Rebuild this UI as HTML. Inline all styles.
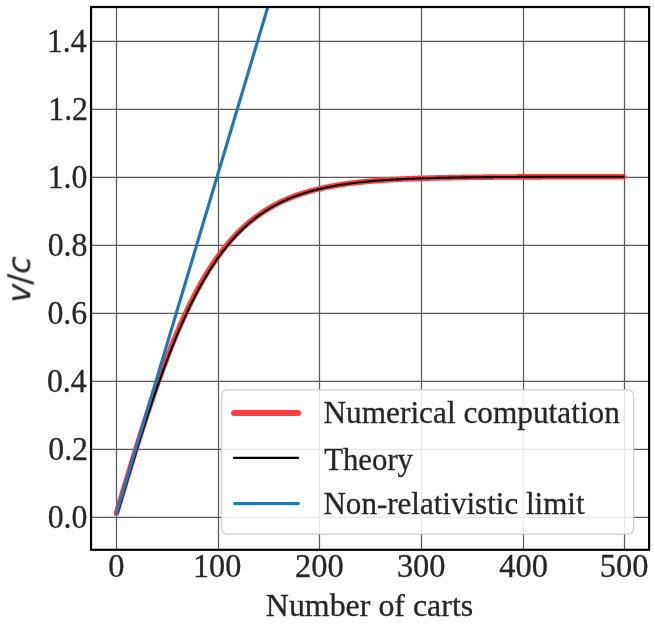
<!DOCTYPE html>
<html lang="en"><head><meta charset="utf-8"><title>v/c vs Number of carts</title>
<style>html,body{margin:0;padding:0;background:#fff}body{width:655px;height:630px;overflow:hidden}svg{display:block}</style>
</head><body>
<svg width="655" height="630" viewBox="0 0 655 630">
<rect width="655" height="630" fill="#fff"/>
<defs><clipPath id="ax"><rect x="91.05" y="7.0" width="558.0500000000001" height="542.8"/></clipPath></defs>
<path d="M116.50 7.0V549.8M218.50 7.0V549.8M319.50 7.0V549.8M421.50 7.0V549.8M523.50 7.0V549.8M624.50 7.0V549.8M91.05 517.35H649.1M91.05 449.35H649.1M91.05 381.35H649.1M91.05 313.35H649.1M91.05 245.35H649.1M91.05 177.35H649.1M91.05 109.35H649.1M91.05 41.35H649.1" stroke="#5a5a5a" stroke-width="1.25" fill="none"/>
<g clip-path="url(#ax)" fill="none">
<path transform="translate(0 -0.7)" d="M116.50 513.90L117.52 510.50L118.53 507.11L119.55 503.71L120.56 500.32L121.58 496.93L122.60 493.54L123.61 490.16L124.63 486.79L125.65 483.42L126.66 480.06L127.68 476.70L128.69 473.36L129.71 470.02L130.73 466.69L131.74 463.37L132.76 460.06L133.78 456.77L134.79 453.48L135.81 450.21L136.82 446.95L137.84 443.70L138.86 440.47L139.87 437.25L140.89 434.05L141.91 430.86L142.92 427.69L143.94 424.53L144.95 421.39L145.97 418.27L146.99 415.17L148.00 412.09L149.02 409.03L150.03 405.98L151.05 402.96L152.07 399.95L153.08 396.97L154.10 394.01L155.12 391.06L156.13 388.14L157.15 385.25L158.16 382.37L159.18 379.52L160.20 376.69L161.21 373.88L162.23 371.10L163.25 368.34L164.26 365.61L165.28 362.90L166.29 360.21L167.31 357.55L168.33 354.92L169.34 352.31L170.36 349.72L171.37 347.16L172.39 344.62L173.41 342.11L174.42 339.63L175.44 337.17L176.46 334.74L177.47 332.34L178.49 329.96L179.50 327.60L180.52 325.27L181.54 322.97L182.55 320.70L183.57 318.45L184.59 316.23L185.60 314.03L186.62 311.86L187.63 309.71L188.65 307.59L189.67 305.50L190.68 303.44L191.70 301.39L192.72 299.38L193.73 297.39L194.75 295.43L195.76 293.49L196.78 291.57L197.80 289.69L198.81 287.82L199.83 285.99L200.84 284.17L201.86 282.39L202.88 280.62L203.89 278.88L204.91 277.17L205.93 275.48L206.94 273.81L207.96 272.17L208.97 270.55L209.99 268.95L211.01 267.38L212.02 265.83L213.04 264.30L214.06 262.79L215.07 261.31L216.09 259.85L217.10 258.41L218.12 257.00L219.14 255.60L220.15 254.23L221.17 252.87L222.18 251.54L223.20 250.23L224.22 248.94L225.23 247.67L226.25 246.42L227.27 245.19L228.28 243.98L229.30 242.78L230.31 241.61L231.33 240.46L232.35 239.32L233.36 238.21L234.38 237.11L235.40 236.03L236.41 234.96L237.43 233.92L238.44 232.89L239.46 231.88L240.48 230.88L241.49 229.91L242.51 228.94L243.53 228.00L244.54 227.07L245.56 226.16L246.57 225.26L247.59 224.38L248.61 223.51L249.62 222.66L250.64 221.82L251.65 220.99L252.67 220.18L253.69 219.39L254.70 218.61L255.72 217.84L256.74 217.08L257.75 216.34L258.77 215.62L259.78 214.90L260.80 214.20L261.82 213.51L262.83 212.83L263.85 212.16L264.87 211.51L265.88 210.87L266.90 210.23L267.91 209.61L268.93 209.01L269.95 208.41L270.96 207.82L271.98 207.24L272.99 206.68L274.01 206.12L275.03 205.58L276.04 205.04L277.06 204.51L278.08 204.00L279.09 203.49L280.11 202.99L281.12 202.51L282.14 202.03L283.16 201.55L284.17 201.09L285.19 200.64L286.21 200.19L287.22 199.76L288.24 199.33L289.25 198.91L290.27 198.49L291.29 198.09L292.30 197.69L293.32 197.30L294.34 196.92L295.35 196.54L296.37 196.17L297.38 195.81L298.40 195.45L299.42 195.10L300.43 194.76L301.45 194.43L302.46 194.10L303.48 193.77L304.50 193.46L305.51 193.15L306.53 192.84L307.55 192.54L308.56 192.25L309.58 191.96L310.59 191.68L311.61 191.40L312.63 191.13L313.64 190.86L314.66 190.60L315.68 190.34L316.69 190.09L317.71 189.84L318.72 189.60L319.74 189.36L320.76 189.13L321.77 188.90L322.79 188.67L323.80 188.45L324.82 188.24L325.84 188.03L326.85 187.82L327.87 187.62L328.89 187.42L329.90 187.22L330.92 187.03L331.93 186.84L332.95 186.65L333.97 186.47L334.98 186.29L336.00 186.12L337.02 185.95L338.03 185.78L339.05 185.62L340.06 185.46L341.08 185.30L342.10 185.14L343.11 184.99L344.13 184.84L345.14 184.69L346.16 184.55L347.18 184.41L348.19 184.27L349.21 184.14L350.23 184.00L351.24 183.87L352.26 183.75L353.27 183.62L354.29 183.50L355.31 183.38L356.32 183.26L357.34 183.15L358.36 183.03L359.37 182.92L360.39 182.81L361.40 182.70L362.42 182.60L363.44 182.50L364.45 182.40L365.47 182.30L366.49 182.20L367.50 182.11L368.52 182.01L369.53 181.92L370.55 181.83L371.57 181.74L372.58 181.66L373.60 181.57L374.61 181.49L375.63 181.41L376.65 181.33L377.66 181.25L378.68 181.18L379.70 181.10L380.71 181.03L381.73 180.96L382.74 180.89L383.76 180.82L384.78 180.75L385.79 180.68L386.81 180.62L387.83 180.55L388.84 180.49L389.86 180.43L390.87 180.37L391.89 180.31L392.91 180.25L393.92 180.19L394.94 180.14L395.95 180.08L396.97 180.03L397.99 179.98L399.00 179.93L400.02 179.88L401.04 179.83L402.05 179.78L403.07 179.73L404.08 179.68L405.10 179.64L406.12 179.59L407.13 179.55L408.15 179.51L409.17 179.46L410.18 179.42L411.20 179.38L412.21 179.34L413.23 179.30L414.25 179.27L415.26 179.23L416.28 179.19L417.30 179.16L418.31 179.12L419.33 179.09L420.34 179.05L421.36 179.02L422.38 178.99L423.39 178.95L424.41 178.92L425.42 178.89L426.44 178.86L427.46 178.83L428.47 178.80L429.49 178.78L430.51 178.75L431.52 178.72L432.54 178.69L433.55 178.67L434.57 178.64L435.59 178.62L436.60 178.59L437.62 178.57L438.64 178.55L439.65 178.52L440.67 178.50L441.68 178.48L442.70 178.46L443.72 178.43L444.73 178.41L445.75 178.39L446.76 178.37L447.78 178.35L448.80 178.33L449.81 178.31L450.83 178.30L451.85 178.28L452.86 178.26L453.88 178.24L454.89 178.22L455.91 178.21L456.93 178.19L457.94 178.17L458.96 178.16L459.98 178.14L460.99 178.13L462.01 178.11L463.02 178.10L464.04 178.08L465.06 178.07L466.07 178.06L467.09 178.04L468.11 178.03L469.12 178.02L470.14 178.00L471.15 177.99L472.17 177.98L473.19 177.97L474.20 177.95L475.22 177.94L476.23 177.93L477.25 177.92L478.27 177.91L479.28 177.90L480.30 177.89L481.32 177.88L482.33 177.87L483.35 177.86L484.36 177.85L485.38 177.84L486.40 177.83L487.41 177.82L488.43 177.81L489.45 177.80L490.46 177.80L491.48 177.79L492.49 177.78L493.51 177.77L494.53 177.76L495.54 177.75L496.56 177.75L497.57 177.74L498.59 177.73L499.61 177.73L500.62 177.72L501.64 177.71L502.66 177.70L503.67 177.70L504.69 177.69L505.70 177.69L506.72 177.68L507.74 177.67L508.75 177.67L509.77 177.66L510.79 177.66L511.80 177.65L512.82 177.64L513.83 177.64L514.85 177.63L515.87 177.63L516.88 177.62L517.90 177.62L518.92 177.61L519.93 177.61L520.95 177.60L521.96 177.60L522.98 177.59L524.00 177.59L525.01 177.59L526.03 177.58L527.04 177.58L528.06 177.57L529.08 177.57L530.09 177.57L531.11 177.56L532.13 177.56L533.14 177.55L534.16 177.55L535.17 177.55L536.19 177.54L537.21 177.54L538.22 177.54L539.24 177.53L540.26 177.53L541.27 177.53L542.29 177.52L543.30 177.52L544.32 177.52L545.34 177.52L546.35 177.51L547.37 177.51L548.38 177.51L549.40 177.50L550.42 177.50L551.43 177.50L552.45 177.50L553.47 177.49L554.48 177.49L555.50 177.49L556.51 177.49L557.53 177.48L558.55 177.48L559.56 177.48L560.58 177.48L561.60 177.48L562.61 177.47L563.63 177.47L564.64 177.47L565.66 177.47L566.68 177.47L567.69 177.46L568.71 177.46L569.73 177.46L570.74 177.46L571.76 177.46L572.77 177.46L573.79 177.45L574.81 177.45L575.82 177.45L576.84 177.45L577.85 177.45L578.87 177.45L579.89 177.44L580.90 177.44L581.92 177.44L582.94 177.44L583.95 177.44L584.97 177.44L585.98 177.44L587.00 177.43L588.02 177.43L589.03 177.43L590.05 177.43L591.07 177.43L592.08 177.43L593.10 177.43L594.11 177.43L595.13 177.43L596.15 177.42L597.16 177.42L598.18 177.42L599.19 177.42L600.21 177.42L601.23 177.42L602.24 177.42L603.26 177.42L604.28 177.42L605.29 177.42L606.31 177.41L607.32 177.41L608.34 177.41L609.36 177.41L610.37 177.41L611.39 177.41L612.41 177.41L613.42 177.41L614.44 177.41L615.45 177.41L616.47 177.41L617.49 177.41L618.50 177.41L619.52 177.40L620.54 177.40L621.55 177.40L622.57 177.40L623.58 177.40" stroke="#fe4040" stroke-width="5.6" stroke-linecap="round" stroke-linejoin="round"/>
<path transform="translate(1.0 -0.7)" d="M116.50 513.90L117.52 510.50L118.53 507.11L119.55 503.71L120.56 500.32L121.58 496.93L122.60 493.54L123.61 490.16L124.63 486.79L125.65 483.42L126.66 480.06L127.68 476.70L128.69 473.36L129.71 470.02L130.73 466.69L131.74 463.37L132.76 460.06L133.78 456.77L134.79 453.48L135.81 450.21L136.82 446.95L137.84 443.70L138.86 440.47L139.87 437.25L140.89 434.05L141.91 430.86L142.92 427.69L143.94 424.53L144.95 421.39L145.97 418.27L146.99 415.17L148.00 412.09L149.02 409.03L150.03 405.98L151.05 402.96L152.07 399.95L153.08 396.97L154.10 394.01L155.12 391.06L156.13 388.14L157.15 385.25L158.16 382.37L159.18 379.52L160.20 376.69L161.21 373.88L162.23 371.10L163.25 368.34L164.26 365.61L165.28 362.90L166.29 360.21L167.31 357.55L168.33 354.92L169.34 352.31L170.36 349.72L171.37 347.16L172.39 344.62L173.41 342.11L174.42 339.63L175.44 337.17L176.46 334.74L177.47 332.34L178.49 329.96L179.50 327.60L180.52 325.27L181.54 322.97L182.55 320.70L183.57 318.45L184.59 316.23L185.60 314.03L186.62 311.86L187.63 309.71L188.65 307.59L189.67 305.50L190.68 303.44L191.70 301.39L192.72 299.38L193.73 297.39L194.75 295.43L195.76 293.49L196.78 291.57L197.80 289.69L198.81 287.82L199.83 285.99L200.84 284.17L201.86 282.39L202.88 280.62L203.89 278.88L204.91 277.17L205.93 275.48L206.94 273.81L207.96 272.17L208.97 270.55L209.99 268.95L211.01 267.38L212.02 265.83L213.04 264.30L214.06 262.79L215.07 261.31L216.09 259.85L217.10 258.41L218.12 257.00L219.14 255.60L220.15 254.23L221.17 252.87L222.18 251.54L223.20 250.23L224.22 248.94L225.23 247.67L226.25 246.42L227.27 245.19L228.28 243.98L229.30 242.78L230.31 241.61L231.33 240.46L232.35 239.32L233.36 238.21L234.38 237.11L235.40 236.03L236.41 234.96L237.43 233.92L238.44 232.89L239.46 231.88L240.48 230.88L241.49 229.91L242.51 228.94L243.53 228.00L244.54 227.07L245.56 226.16L246.57 225.26L247.59 224.38L248.61 223.51L249.62 222.66L250.64 221.82L251.65 220.99L252.67 220.18L253.69 219.39L254.70 218.61L255.72 217.84L256.74 217.08L257.75 216.34L258.77 215.62L259.78 214.90L260.80 214.20L261.82 213.51L262.83 212.83L263.85 212.16L264.87 211.51L265.88 210.87L266.90 210.23L267.91 209.61L268.93 209.01L269.95 208.41L270.96 207.82L271.98 207.24L272.99 206.68L274.01 206.12L275.03 205.58L276.04 205.04L277.06 204.51L278.08 204.00L279.09 203.49L280.11 202.99L281.12 202.51L282.14 202.03L283.16 201.55L284.17 201.09L285.19 200.64L286.21 200.19L287.22 199.76L288.24 199.33L289.25 198.91L290.27 198.49L291.29 198.09L292.30 197.69L293.32 197.30L294.34 196.92L295.35 196.54L296.37 196.17L297.38 195.81L298.40 195.45L299.42 195.10L300.43 194.76L301.45 194.43L302.46 194.10L303.48 193.77L304.50 193.46L305.51 193.15L306.53 192.84L307.55 192.54L308.56 192.25L309.58 191.96L310.59 191.68L311.61 191.40L312.63 191.13L313.64 190.86L314.66 190.60L315.68 190.34L316.69 190.09L317.71 189.84L318.72 189.60L319.74 189.36L320.76 189.13L321.77 188.90L322.79 188.67L323.80 188.45L324.82 188.24L325.84 188.03L326.85 187.82L327.87 187.62L328.89 187.42L329.90 187.22L330.92 187.03L331.93 186.84L332.95 186.65L333.97 186.47L334.98 186.29L336.00 186.12L337.02 185.95L338.03 185.78L339.05 185.62L340.06 185.46L341.08 185.30L342.10 185.14L343.11 184.99L344.13 184.84L345.14 184.69L346.16 184.55L347.18 184.41L348.19 184.27L349.21 184.14L350.23 184.00L351.24 183.87L352.26 183.75L353.27 183.62L354.29 183.50L355.31 183.38L356.32 183.26L357.34 183.15L358.36 183.03L359.37 182.92L360.39 182.81L361.40 182.70L362.42 182.60L363.44 182.50L364.45 182.40L365.47 182.30L366.49 182.20L367.50 182.11L368.52 182.01L369.53 181.92L370.55 181.83L371.57 181.74L372.58 181.66L373.60 181.57L374.61 181.49L375.63 181.41L376.65 181.33L377.66 181.25L378.68 181.18L379.70 181.10L380.71 181.03L381.73 180.96L382.74 180.89L383.76 180.82L384.78 180.75L385.79 180.68L386.81 180.62L387.83 180.55L388.84 180.49L389.86 180.43L390.87 180.37L391.89 180.31L392.91 180.25L393.92 180.19L394.94 180.14L395.95 180.08L396.97 180.03L397.99 179.98L399.00 179.93L400.02 179.88L401.04 179.83L402.05 179.78L403.07 179.73L404.08 179.68L405.10 179.64L406.12 179.59L407.13 179.55L408.15 179.51L409.17 179.46L410.18 179.42L411.20 179.38L412.21 179.34L413.23 179.30L414.25 179.27L415.26 179.23L416.28 179.19L417.30 179.16L418.31 179.12L419.33 179.09L420.34 179.05L421.36 179.02L422.38 178.99L423.39 178.95L424.41 178.92L425.42 178.89L426.44 178.86L427.46 178.83L428.47 178.80L429.49 178.78L430.51 178.75L431.52 178.72L432.54 178.69L433.55 178.67L434.57 178.64L435.59 178.62L436.60 178.59L437.62 178.57L438.64 178.55L439.65 178.52L440.67 178.50L441.68 178.48L442.70 178.46L443.72 178.43L444.73 178.41L445.75 178.39L446.76 178.37L447.78 178.35L448.80 178.33L449.81 178.31L450.83 178.30L451.85 178.28L452.86 178.26L453.88 178.24L454.89 178.22L455.91 178.21L456.93 178.19L457.94 178.17L458.96 178.16L459.98 178.14L460.99 178.13L462.01 178.11L463.02 178.10L464.04 178.08L465.06 178.07L466.07 178.06L467.09 178.04L468.11 178.03L469.12 178.02L470.14 178.00L471.15 177.99L472.17 177.98L473.19 177.97L474.20 177.95L475.22 177.94L476.23 177.93L477.25 177.92L478.27 177.91L479.28 177.90L480.30 177.89L481.32 177.88L482.33 177.87L483.35 177.86L484.36 177.85L485.38 177.84L486.40 177.83L487.41 177.82L488.43 177.81L489.45 177.80L490.46 177.80L491.48 177.79L492.49 177.78L493.51 177.77L494.53 177.76L495.54 177.75L496.56 177.75L497.57 177.74L498.59 177.73L499.61 177.73L500.62 177.72L501.64 177.71L502.66 177.70L503.67 177.70L504.69 177.69L505.70 177.69L506.72 177.68L507.74 177.67L508.75 177.67L509.77 177.66L510.79 177.66L511.80 177.65L512.82 177.64L513.83 177.64L514.85 177.63L515.87 177.63L516.88 177.62L517.90 177.62L518.92 177.61L519.93 177.61L520.95 177.60L521.96 177.60L522.98 177.59L524.00 177.59L525.01 177.59L526.03 177.58L527.04 177.58L528.06 177.57L529.08 177.57L530.09 177.57L531.11 177.56L532.13 177.56L533.14 177.55L534.16 177.55L535.17 177.55L536.19 177.54L537.21 177.54L538.22 177.54L539.24 177.53L540.26 177.53L541.27 177.53L542.29 177.52L543.30 177.52L544.32 177.52L545.34 177.52L546.35 177.51L547.37 177.51L548.38 177.51L549.40 177.50L550.42 177.50L551.43 177.50L552.45 177.50L553.47 177.49L554.48 177.49L555.50 177.49L556.51 177.49L557.53 177.48L558.55 177.48L559.56 177.48L560.58 177.48L561.60 177.48L562.61 177.47L563.63 177.47L564.64 177.47L565.66 177.47L566.68 177.47L567.69 177.46L568.71 177.46L569.73 177.46L570.74 177.46L571.76 177.46L572.77 177.46L573.79 177.45L574.81 177.45L575.82 177.45L576.84 177.45L577.85 177.45L578.87 177.45L579.89 177.44L580.90 177.44L581.92 177.44L582.94 177.44L583.95 177.44L584.97 177.44L585.98 177.44L587.00 177.43L588.02 177.43L589.03 177.43L590.05 177.43L591.07 177.43L592.08 177.43L593.10 177.43L594.11 177.43L595.13 177.43L596.15 177.42L597.16 177.42L598.18 177.42L599.19 177.42L600.21 177.42L601.23 177.42L602.24 177.42L603.26 177.42L604.28 177.42L605.29 177.42L606.31 177.41L607.32 177.41L608.34 177.41L609.36 177.41L610.37 177.41L611.39 177.41L612.41 177.41L613.42 177.41L614.44 177.41L615.45 177.41L616.47 177.41L617.49 177.41L618.50 177.41L619.52 177.40L620.54 177.40L621.55 177.40L622.57 177.40L623.58 177.40" stroke="#000" stroke-width="2.1" stroke-linecap="butt" stroke-linejoin="round"/>
<path transform="translate(0 -0.7)" d="M116.50 513.90L623.58 -1182.34" stroke="#1f77b4" stroke-width="3.15" stroke-linecap="round"/>
</g>
<rect x="91.05" y="7.0" width="558.0500000000001" height="542.8" fill="none" stroke="#000" stroke-width="2.2"/>
<rect x="221.6" y="389.85" width="412.00" height="144.25" rx="5.5" fill="#fff" fill-opacity="0.87" stroke="#ccc" stroke-opacity="0.9" stroke-width="1.25"/>
<path d="M234.05 413H298.1" stroke="#fe4040" stroke-width="5.8" stroke-linecap="round"/>
<path d="M233.1 457.9H298.9" stroke="#000" stroke-width="2.1"/>
<path d="M234.6 503.5H298.4" stroke="#1f77b4" stroke-width="3" stroke-linecap="round"/>
<g font-family="'Liberation Serif', 'DejaVu Serif', serif" font-size="32.6px" fill="#262626" stroke="#262626" stroke-width="0.3" opacity="0.999">
<text font-size="32.6px" transform="translate(323.46 423.20) scale(0.9606 1)">Numerical computation</text>
<text font-size="32.6px" transform="translate(324.16 470.00) scale(0.9443 1)">Theory</text>
<text font-size="32.6px" transform="translate(323.47 514.10) scale(0.9521 1)">Non-relativistic limit</text>
<text font-size="32.8px" transform="translate(108.28 576.70) scale(0.9900 1)">0</text>
<text font-size="32.8px" transform="translate(192.96 576.70) scale(0.9850 1)">100</text>
<text font-size="32.8px" transform="translate(294.92 576.70) scale(0.9900 1)">200</text>
<text font-size="32.8px" transform="translate(396.88 576.70) scale(0.9900 1)">300</text>
<text font-size="32.8px" transform="translate(499.33 576.70) scale(0.9900 1)">400</text>
<text font-size="32.8px" transform="translate(599.72 576.70) scale(0.9900 1)">500</text>
<text font-size="32.8px" transform="translate(47.67 527.70) scale(0.9700 1)">0.0</text>
<text font-size="32.8px" transform="translate(48.23 459.70) scale(0.9700 1)">0.2</text>
<text font-size="32.8px" transform="translate(46.96 391.70) scale(0.9700 1)">0.4</text>
<text font-size="32.8px" transform="translate(47.43 323.70) scale(0.9700 1)">0.6</text>
<text font-size="32.8px" transform="translate(47.67 255.70) scale(0.9700 1)">0.8</text>
<text font-size="32.8px" transform="translate(47.67 187.70) scale(0.9700 1)">1.0</text>
<text font-size="32.8px" transform="translate(48.23 119.70) scale(0.9700 1)">1.2</text>
<text font-size="32.8px" transform="translate(46.96 51.70) scale(0.9700 1)">1.4</text>
<text font-size="32.6px" transform="translate(265.84 616.00) scale(0.9794 1)">Number of carts</text>
<text transform="translate(30.3 302.66) rotate(-90)" font-family="'DejaVu Sans', 'Liberation Sans', sans-serif" font-size="32px" fill="#262626" stroke="#262626" stroke-width="0.15"><tspan font-style="italic">v</tspan><tspan dx="-1">/</tspan><tspan font-style="italic">c</tspan></text>
</g>
</svg>
</body></html>
